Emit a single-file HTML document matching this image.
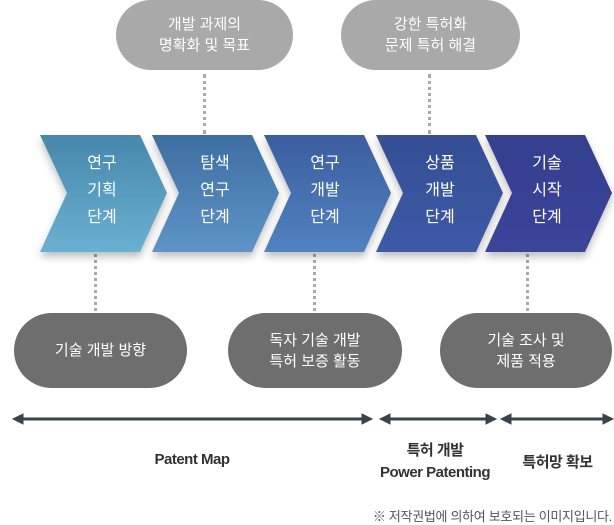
<!DOCTYPE html>
<html><head><meta charset="utf-8"><style>
body{margin:0;background:#fff;width:614px;height:524px;overflow:hidden;font-family:"Liberation Sans","Noto Sans CJK KR",sans-serif}
.p{position:absolute;border-radius:40px;color:#fff;display:flex;align-items:center;justify-content:center;text-align:center;font-size:15px;line-height:21px}
.t{background:#a9a9a9;top:0;height:70px}
.b{background:#6e6e6e;top:313px;height:75px}
.d{position:absolute;width:0;border-left:3px dotted #aaa}
.c{position:absolute;top:150px;color:#fff;font-size:16px;line-height:27px;text-align:center;width:60px}
.l{position:absolute;color:#333;font-weight:bold;font-size:15px;text-align:center;letter-spacing:-0.5px}
</style></head><body>
<div class="p t" style="left:116px;width:177px">개발 과제의<br>명확화 및 목표</div>
<div class="p t" style="left:341px;width:179px">강한 특허화<br>문제 특허 해결</div>
<div class="d" style="left:203px;top:74px;height:60px"></div>
<div class="d" style="left:428px;top:74px;height:60px"></div>
<div class="d" style="left:94px;top:254px;height:57px"></div>
<div class="d" style="left:313px;top:254px;height:57px"></div>
<div class="d" style="left:526px;top:254px;height:57px"></div>
<svg style="position:absolute;left:0;top:0" width="614" height="524">
<defs>
<linearGradient id="g1" x1="0" y1="0" x2="0" y2="1"><stop offset="0" stop-color="#4688ab"/><stop offset="1" stop-color="#6bb0d2"/></linearGradient>
<linearGradient id="g2" x1="0" y1="0" x2="0" y2="1"><stop offset="0" stop-color="#3d6ea2"/><stop offset="1" stop-color="#5f94c6"/></linearGradient>
<linearGradient id="g3" x1="0" y1="0" x2="0" y2="1"><stop offset="0" stop-color="#3a5ea0"/><stop offset="1" stop-color="#5282c0"/></linearGradient>
<linearGradient id="g4" x1="0" y1="0" x2="0" y2="1"><stop offset="0" stop-color="#344e94"/><stop offset="1" stop-color="#3d5aa6"/></linearGradient>
<linearGradient id="g5" x1="0" y1="0" x2="0" y2="1"><stop offset="0" stop-color="#353f8e"/><stop offset="1" stop-color="#3b449a"/></linearGradient>
<filter id="sh"><feDropShadow dx="0" dy="5" stdDeviation="4" flood-opacity="0.25"/></filter>
</defs>
<g filter="url(#sh)">
<polygon fill="url(#g1)" points="40,135 140,135 167,193 140,252 40,252 67,193"/>
<polygon fill="url(#g2)" points="152,135 252,135 279,193 252,252 152,252 179,193"/>
<polygon fill="url(#g3)" points="264,135 364,135 391,193 364,252 264,252 291,193"/>
<polygon fill="url(#g4)" points="376,135 476,135 503,193 476,252 376,252 403,193"/>
<polygon fill="url(#g5)" points="485,135 585,135 612,193 585,252 485,252 512,193"/>
</g>
<g fill="#3a4448" stroke="#3a4448">
<line x1="20" y1="419" x2="366" y2="419" stroke-width="3"/>
<polygon points="13,419 23,414 23,424"/><polygon points="372,419 362,414 362,424"/>
<line x1="386" y1="419" x2="490" y2="419" stroke-width="3"/>
<polygon points="380,419 390,414 390,424"/><polygon points="496,419 486,414 486,424"/>
<line x1="507" y1="419" x2="607" y2="419" stroke-width="3"/>
<polygon points="501,419 511,414 511,424"/><polygon points="613,419 603,414 603,424"/>
</g>
</svg>
<div class="c" style="left:72px">연구<br>기획<br>단계</div>
<div class="c" style="left:185px">탐색<br>연구<br>단계</div>
<div class="c" style="left:295px">연구<br>개발<br>단계</div>
<div class="c" style="left:410px">상품<br>개발<br>단계</div>
<div class="c" style="left:517px">기술<br>시작<br>단계</div>
<div class="p b" style="left:14px;width:173px">기술 개발 방향</div>
<div class="p b" style="left:228px;width:174px">독자 기술 개발<br>특허 보증 활동</div>
<div class="p b" style="left:440px;width:172px">기술 조사 및<br>제품 적용</div>
<div class="l" style="left:100px;width:184px;top:451px">Patent Map</div>
<div class="l" style="left:360px;width:150px;top:440px;line-height:22px">특허 개발<br>Power Patenting</div>
<div class="l" style="left:505px;width:105px;top:451px">특허망 확보</div>
<div style="position:absolute;left:300px;width:312px;top:506px;font-size:13px;color:#555;text-align:right;letter-spacing:-0.3px">※ 저작권법에 의하여 보호되는 이미지입니다.</div>
</body></html>
